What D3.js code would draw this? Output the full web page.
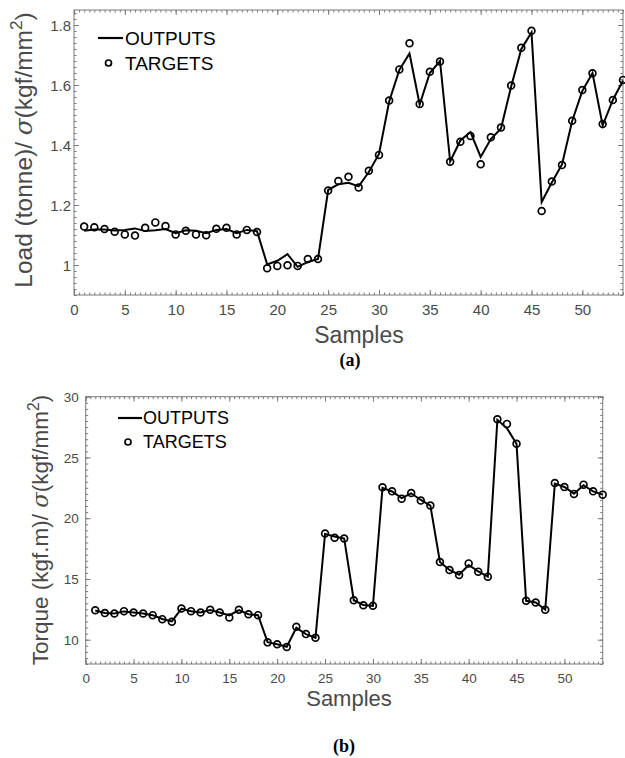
<!DOCTYPE html>
<html>
<head>
<meta charset="utf-8">
<script src="https://cdn.jsdelivr.net/npm/d3@7"></script>
<style>
  html, body { margin: 0; padding: 0; background: #fff; }
  svg { display: block; font-family: "Liberation Sans", Arial, sans-serif; }
</style>
</head>
<body>
<svg id="chart" width="625" height="758"></svg>
<script>
// ---------- DATA ----------
const samples = d3.range(1, 55);

const loadTargets = [1.128, 1.126, 1.120, 1.111, 1.102, 1.098, 1.124, 1.142, 1.130, 1.102,
  1.114, 1.102, 1.099, 1.121, 1.124, 1.102, 1.117, 1.110, 0.989, 0.997,
  0.999, 0.997, 1.020, 1.020, 1.248, 1.280, 1.294, 1.258, 1.314, 1.367,
  1.548, 1.652, 1.739, 1.537, 1.644, 1.678, 1.344, 1.411, 1.430, 1.336,
  1.426, 1.458, 1.598, 1.724, 1.781, 1.180, 1.278, 1.333, 1.481, 1.583,
  1.639, 1.470, 1.550, 1.617];

const loadOutputs = [1.114, 1.118, 1.118, 1.115, 1.117, 1.122, 1.113, 1.116, 1.120, 1.106,
  1.116, 1.114, 1.106, 1.117, 1.120, 1.106, 1.117, 1.113, 1.002, 1.014,
  1.036, 0.994, 1.010, 1.020, 1.250, 1.269, 1.274, 1.262, 1.310, 1.370,
  1.545, 1.650, 1.705, 1.535, 1.640, 1.680, 1.345, 1.415, 1.443, 1.360,
  1.420, 1.455, 1.595, 1.720, 1.775, 1.210, 1.275, 1.335, 1.480, 1.580,
  1.640, 1.465, 1.550, 1.615];

const torqueTargets = [12.43, 12.19, 12.16, 12.35, 12.24, 12.16, 12.02, 11.69, 11.48, 12.57,
  12.35, 12.24, 12.46, 12.24, 11.83, 12.46, 12.10, 12.02, 9.78, 9.62,
  9.40, 11.07, 10.46, 10.16, 18.74, 18.39, 18.33, 13.25, 12.84, 12.79,
  22.54, 22.21, 21.61, 22.08, 21.45, 21.04, 16.40, 15.74, 15.33, 16.28,
  15.60, 15.19, 28.14, 27.76, 26.12, 13.20, 13.06, 12.46, 22.90, 22.57,
  22.00, 22.76, 22.21, 21.94];

const torqueOutputs = [12.40, 12.20, 12.16, 12.33, 12.24, 12.16, 12.02, 11.70, 11.50, 12.55,
  12.35, 12.24, 12.45, 12.24, 12.00, 12.44, 12.10, 12.02, 9.80, 9.62,
  9.42, 10.98, 10.46, 10.16, 18.70, 18.50, 18.33, 13.25, 12.86, 12.79,
  22.50, 22.20, 21.65, 22.05, 21.50, 21.04, 16.40, 15.74, 15.35, 16.15,
  15.62, 15.20, 28.10, 27.40, 26.12, 13.20, 13.06, 12.48, 22.85, 22.57,
  22.02, 22.72, 22.21, 21.94];

const xMajorTicks = [0, 5, 10, 15, 20, 25, 30, 35, 40, 45, 50];
const loadYTicks = [1, 1.2, 1.4, 1.6, 1.8];
const torqueYTicks = [10, 15, 20, 25, 30];
const legendLabels = ["OUTPUTS", "TARGETS"];

// ---------- DRAW ----------
const svg = d3.select("#chart");
const axisColor = "#7a7a7a";
const labelColor = "#4a4a4a";
const sans = "'Liberation Sans', Arial, sans-serif";

function drawPanel(cfg) {
  const x = d3.scaleLinear().domain(cfg.xDomain).range([cfg.left, cfg.right]);
  const y = d3.scaleLinear().domain(cfg.yDomain).range([cfg.bottom, cfg.top]);
  const g = svg.append("g");

  const xMinor = d3.range(cfg.xDomain[0], cfg.xDomain[1] + 1e-9, 0.5);
  const yMinor = d3.range(cfg.yDomain[0], cfg.yDomain[1] + 1e-9, cfg.yMinorStep);

  function styleAxis(sel) {
    sel.select(".domain").remove();
    sel.selectAll("line").attr("stroke", axisColor).attr("stroke-width", 1);
  }
  // minor ticks on all sides (inward)
  g.append("g").attr("transform", `translate(0,${cfg.bottom})`)
    .call(d3.axisBottom(x).tickValues(xMinor).tickSize(-2.5).tickFormat("")).call(styleAxis);
  g.append("g").attr("transform", `translate(0,${cfg.top})`)
    .call(d3.axisTop(x).tickValues(xMinor).tickSize(-2.5).tickFormat("")).call(styleAxis);
  g.append("g").attr("transform", `translate(${cfg.left},0)`)
    .call(d3.axisLeft(y).tickValues(yMinor).tickSize(-2.5).tickFormat("")).call(styleAxis);
  g.append("g").attr("transform", `translate(${cfg.right},0)`)
    .call(d3.axisRight(y).tickValues(yMinor).tickSize(-2.5).tickFormat("")).call(styleAxis);

  // major ticks
  const xb = g.append("g").attr("transform", `translate(0,${cfg.bottom})`)
    .call(d3.axisBottom(x).tickValues(xMajorTicks).tickSize(-5).tickPadding(0).tickFormat(d3.format("d")))
    .call(styleAxis);
  xb.selectAll("text").attr("fill", labelColor).attr("font-size", cfg.tickFont)
    .attr("y", cfg.xLabelOffset).attr("dy", 0).style("font-family", sans);
  g.append("g").attr("transform", `translate(0,${cfg.top})`)
    .call(d3.axisTop(x).tickValues(xMajorTicks).tickSize(-5).tickFormat("")).call(styleAxis);
  const yl = g.append("g").attr("transform", `translate(${cfg.left},0)`)
    .call(d3.axisLeft(y).tickValues(cfg.yTicks).tickSize(-5).tickFormat(d => String(d)))
    .call(styleAxis);
  yl.selectAll("text").attr("fill", labelColor).attr("font-size", cfg.tickFont)
    .attr("x", -cfg.yLabelGap).attr("dy", "0.35em").style("font-family", sans);
  g.append("g").attr("transform", `translate(${cfg.right},0)`)
    .call(d3.axisRight(y).tickValues(cfg.yTicks).tickSize(-5).tickFormat("")).call(styleAxis);

  // box
  g.append("rect").attr("x", cfg.left).attr("y", cfg.top)
    .attr("width", cfg.right - cfg.left).attr("height", cfg.bottom - cfg.top)
    .attr("fill", "none").attr("stroke", axisColor).attr("stroke-width", 1);

  // outputs line
  const line = d3.line().x((d, i) => x(samples[i])).y(d => y(d));
  g.append("path").datum(cfg.outputs).attr("d", line)
    .attr("fill", "none").attr("stroke", "#000").attr("stroke-width", 2)
    .attr("stroke-linejoin", "miter");

  // targets
  g.append("g").selectAll("circle").data(cfg.targets).join("circle")
    .attr("cx", (d, i) => x(samples[i])).attr("cy", d => y(d))
    .attr("r", 3.4).attr("fill", "none").attr("stroke", "#000").attr("stroke-width", 1.7);

  // legend
  const L = cfg.legend;
  g.append("line").attr("x1", L.x).attr("x2", L.x + L.lineLen)
    .attr("y1", L.y1).attr("y2", L.y1).attr("stroke", "#000").attr("stroke-width", 2.2);
  g.append("circle").attr("cx", L.x + L.lineLen / 2 - 2).attr("cy", L.y2)
    .attr("r", 3).attr("fill", "none").attr("stroke", "#000").attr("stroke-width", 1.7);
  g.append("text").attr("x", L.textX).attr("y", L.y1 + L.font * 0.36)
    .attr("font-size", L.font).attr("fill", "#000").style("font-family", sans).text(legendLabels[0]);
  g.append("text").attr("x", L.textX).attr("y", L.y2 + L.font * 0.36)
    .attr("font-size", L.font).attr("fill", "#000").style("font-family", sans).text(legendLabels[1]);

  // x label
  g.append("text").attr("x", cfg.xTitle.x).attr("y", cfg.xTitle.y)
    .attr("text-anchor", "middle").attr("font-size", cfg.xTitle.font)
    .attr("fill", labelColor).style("font-family", sans).text("Samples");

  // y label
  const yt = g.append("text")
    .attr("transform", `translate(${cfg.yTitle.x},${cfg.yTitle.y}) rotate(-90)`)
    .attr("text-anchor", "middle").attr("font-size", cfg.yTitle.font)
    .attr("fill", labelColor).style("font-family", sans);
  yt.append("tspan").text(cfg.yTitle.prefix + " ");
  yt.append("tspan").style("font-style", "italic")
    .style("font-family", "'DejaVu Serif', 'Liberation Serif', serif").text("σ");
  yt.append("tspan").text("(kgf/mm");
  yt.append("tspan").attr("font-size", cfg.yTitle.font * 0.7).attr("dy", -cfg.yTitle.font * 0.4).text("2");
  yt.append("tspan").attr("dy", cfg.yTitle.font * 0.4).text(")");

  // panel letter
  g.append("text").attr("x", cfg.letter.x).attr("y", cfg.letter.y)
    .attr("text-anchor", "middle").attr("font-size", 18)
    .style("font-weight", "bold")
    .style("font-family", "'Liberation Serif', 'Times New Roman', serif")
    .attr("fill", "#000").text(cfg.letter.text);
}

drawPanel({
  left: 74, right: 623, top: 10, bottom: 295,
  xDomain: [0, 54], yDomain: [0.9, 1.85], yMinorStep: 0.02,
  yTicks: loadYTicks, tickFont: 15, xLabelOffset: 20, yLabelGap: 3,
  outputs: loadOutputs, targets: loadTargets,
  legend: { x: 98, lineLen: 25, y1: 38, y2: 63, textX: 125, font: 19 },
  xTitle: { x: 359, y: 343, font: 23 },
  yTitle: { x: 32, y: 150, font: 24.5, prefix: "Load (tonne)/" },
  letter: { x: 350, y: 366, text: "(a)" }
});

drawPanel({
  left: 85.7, right: 602.7, top: 396.7, bottom: 664,
  xDomain: [0, 54], yDomain: [8, 30], yMinorStep: 0.5,
  yTicks: torqueYTicks, tickFont: 13.5, xLabelOffset: 18.7, yLabelGap: 7,
  outputs: torqueOutputs, targets: torqueTargets,
  legend: { x: 118, lineLen: 24, y1: 418, y2: 442, textX: 143, font: 18 },
  xTitle: { x: 349, y: 706, font: 22 },
  yTitle: { x: 48, y: 530, font: 22.5, prefix: "Torque (kgf.m)/" },
  letter: { x: 344, y: 752, text: "(b)" }
});
</script>
</body>
</html>
